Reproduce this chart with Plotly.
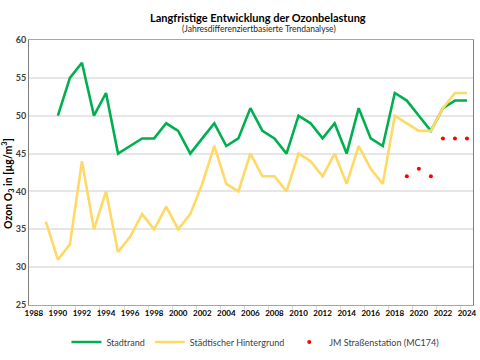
import plotly.graph_objects as go

years_stadtrand = list(range(1990, 2025))
stadtrand = [50, 55, 57, 50, 53, 45, 46, 47, 47, 49, 48, 45, 47, 49, 46, 47,
             51, 48, 47, 45, 50, 49, 47, 49, 45, 51, 47, 46, 53, 52, 50, 48,
             51, 52, 52]

years_hintergrund = list(range(1989, 2025))
hintergrund = [36, 31, 33, 44, 35, 40, 32, 34, 37, 35, 38, 35, 37, 41, 46, 41,
               40, 45, 42, 42, 40, 45, 44, 42, 45, 41, 46, 43, 41, 50, 49, 48,
               48, 51, 53, 53]

years_jm = [2019, 2020, 2021, 2022, 2023, 2024]
jm = [42, 43, 42, 47, 47, 47]

title = "Langfristige Entwicklung der Ozonbelastung"
subtitle = "(Jahresdifferenziertbasierte Trendanalyse)"
ytitle = "Ozon O<sub>3</sub> in [µg/m<sup>3</sup>]"

font = "Lato"

fig = go.Figure()
fig.add_trace(go.Scatter(x=years_stadtrand, y=stadtrand, mode="lines", name="Stadtrand",
                         line=dict(color="#00B050", width=2.6)))
fig.add_trace(go.Scatter(x=years_hintergrund, y=hintergrund, mode="lines",
                         name="Städtischer Hintergrund",
                         line=dict(color="#FFD966", width=2.6)))
fig.add_trace(go.Scatter(x=years_jm, y=jm, mode="markers", name="JM Straßenstation (MC174)",
                         marker=dict(color="#FF0000", size=4)))

fig.update_layout(
    width=480, height=360,
    margin=dict(l=29, r=3, t=40, b=49),
    paper_bgcolor="white", plot_bgcolor="white",
    font=dict(family=font, size=9, color="#404040"),
    showlegend=True,
    legend=dict(orientation="h", x=0.51, xanchor="center", y=-0.085, yanchor="top",
                font=dict(family=font, size=9, color="#404040"),
                itemwidth=30, tracegroupgap=0),
    xaxis=dict(range=[1987.6, 2024.5], tick0=1988, dtick=2, showgrid=False,
               ticks="", showline=True, linecolor="#A6A6A6", linewidth=1, mirror=True,
               ticklabeloverflow="allow",
               tickfont=dict(family=font, size=8, color="#000000", weight="bold"),
               minor=dict(tick0=1987.5, dtick=2, ticks="outside", ticklen=4,
                          tickcolor="#D9D9D9", showgrid=False),
               zeroline=False),
    yaxis=dict(range=[25, 60], dtick=5, showgrid=True, gridcolor="#E6E6E6", gridwidth=1.5,
               showline=True, linecolor="#7F7F7F", linewidth=1, mirror=True,
               ticks="", tickfont=dict(family=font, size=9, color="#404040", weight="bold"),
               zeroline=False),
    annotations=[
        dict(text="<b>" + title + "</b>", xref="paper", yref="paper",
             x=(260.5 - 29) / 448, y=1 + (40 - 17.5) / 271, xanchor="center", yanchor="middle",
             showarrow=False, font=dict(family=font, size=11, color="#000000")),
        dict(text=subtitle, xref="paper", yref="paper",
             x=(261.5 - 29) / 448, y=1 + (40 - 29) / 271, xanchor="center", yanchor="middle",
             showarrow=False, font=dict(family=font, size=8.5, color="#262626")),
        dict(text="<b>" + ytitle + "</b>", xref="paper", yref="paper",
             x=(8 - 29) / 448, y=1 - (187 - 40) / 271, xanchor="center", yanchor="middle",
             textangle=-90, showarrow=False, font=dict(family=font, size=10.5, color="#000000")),
    ],
)

fig.write_html("out.html", config={"displayModeBar": False},
               post_script="document.body.style.margin='0';")
